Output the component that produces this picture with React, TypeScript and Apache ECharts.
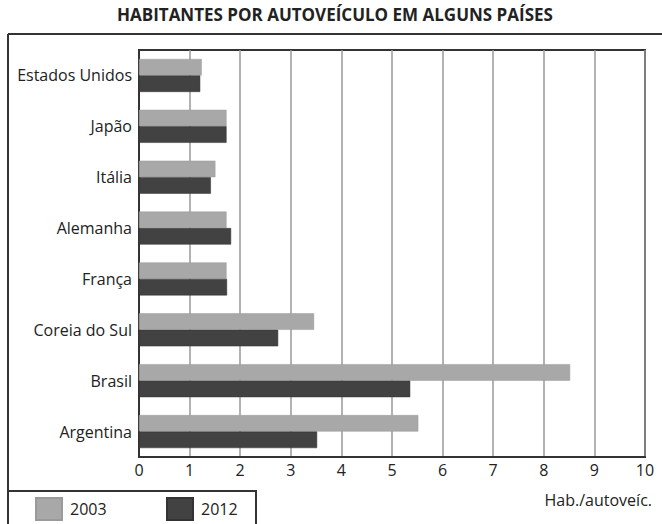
import React, { useEffect, useRef } from "react";
import * as echarts from "echarts";

const categories = [
  "Estados Unidos",
  "Japão",
  "Itália",
  "Alemanha",
  "França",
  "Coreia do Sul",
  "Brasil",
  "Argentina",
];
const values2003 = [1.24, 1.73, 1.51, 1.73, 1.73, 3.46, 8.52, 5.52];
const values2012 = [1.21, 1.73, 1.42, 1.82, 1.74, 2.75, 5.36, 3.52];
const seriesNames = ["2003", "2012"];
const titleText = "HABITANTES POR AUTOVEÍCULO EM ALGUNS PAÍSES";
const unitText = "Hab./autoveíc.";

const FONT = "'Open Sans', 'Noto Sans', sans-serif";

export default function App() {
  const ref = useRef<HTMLDivElement>(null);
  useEffect(() => {
    if (!ref.current) return;
    const chart = echarts.init(ref.current, null, { renderer: "svg" });
    const legendCommon = {
      top: 497,
      padding: 0,
      icon: "rect",
      itemWidth: 26,
      itemHeight: 22,
      textStyle: { fontFamily: FONT, fontSize: 16, color: "#222", padding: [0, 0, 0, 3] },
    };
    chart.setOption({
      animation: false,
      backgroundColor: "#ffffff",
      textStyle: { fontFamily: FONT },
      title: {
        text: titleText,
        left: 117,
        top: 6,
        padding: 0,
        textStyle: { fontFamily: FONT, fontSize: 17, fontWeight: "bold", color: "#222" },
      },
      legend: [
        { ...legendCommon, data: [seriesNames[0]], left: 35 },
        { ...legendCommon, data: [seriesNames[1]], left: 166 },
      ],
      grid: {
        left: 139,
        right: 17,
        top: 50,
        bottom: 67,
        show: true,
        borderColor: "#333",
        borderWidth: 2,
        containLabel: false,
      },
      xAxis: {
        type: "value",
        min: 0,
        max: 10,
        interval: 1,
        axisLine: { show: true, lineStyle: { color: "#333", width: 2 } },
        axisTick: { show: false },
        splitLine: { show: true, lineStyle: { color: "#999", width: 1.5 } },
        axisLabel: { fontFamily: FONT, fontSize: 16, color: "#222", margin: 5 },
      },
      yAxis: {
        type: "category",
        data: categories,
        inverse: true,
        axisLine: { show: true, lineStyle: { color: "#333", width: 2 } },
        axisTick: { show: false },
        splitLine: { show: false },
        axisLabel: { fontFamily: FONT, fontSize: 16, color: "#222", margin: 7 },
      },
      series: [
        {
          name: seriesNames[0],
          type: "bar",
          data: values2003,
          barWidth: 16.5,
          barGap: "0%",
          itemStyle: { color: "#a8a8a8", borderColor: "#9a9a9a", borderWidth: 0.5 },
        },
        {
          name: seriesNames[1],
          type: "bar",
          data: values2012,
          barWidth: 16.5,
          barGap: "0%",
          itemStyle: { color: "#424242", borderColor: "#333", borderWidth: 0.5 },
        },
      ],
      graphic: [
        {
          type: "line",
          shape: { x1: 8, y1: 34, x2: 662, y2: 34 },
          style: { stroke: "#333", lineWidth: 2 },
        },
        {
          type: "line",
          shape: { x1: 8, y1: 34, x2: 8, y2: 524 },
          style: { stroke: "#333", lineWidth: 2 },
        },
        {
          type: "rect",
          shape: { x: 8, y: 491, width: 248, height: 40 },
          style: { fill: "none", stroke: "#333", lineWidth: 2 },
        },
        {
          type: "text",
          right: 10,
          top: 492,
          style: { text: unitText, fontFamily: FONT, fontSize: 16, fill: "#222" },
        },
      ],
    });
    return () => chart.dispose();
  }, []);
  return (
    <div
      ref={ref}
      style={{ position: "fixed", left: 0, top: 0, width: 662, height: 524 }}
    />
  );
}
